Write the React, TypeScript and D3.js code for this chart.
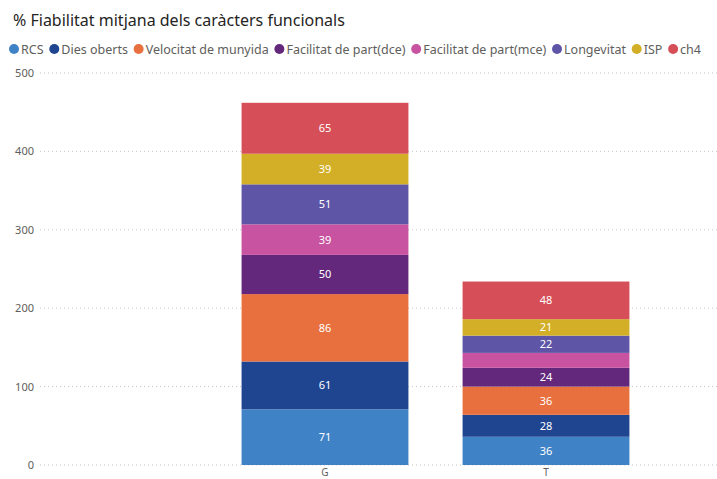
import React, { useRef, useEffect } from 'react';
import * as d3 from 'd3';

const categories = ['G', 'T'];
const seriesNames = ['RCS', 'Dies oberts', 'Velocitat de munyida', 'Facilitat de part(dce)', 'Facilitat de part(mce)', 'Longevitat', 'ISP', 'ch4'];
const seriesColors = ['#3F83C6', '#1F4591', '#E8703E', '#63287C', '#C853A0', '#5E55A6', '#D2AF27', '#D64E57'];
const valuesG = [71, 61, 86, 50, 39, 51, 39, 65];
const valuesT = [36, 28, 36, 24, 19, 22, 21, 48];
const yTicks = [0, 100, 200, 300, 400, 500];

const W = 717;
const H = 479;
const FONT = "'Segoe UI', 'Noto Sans', 'DejaVu Sans', sans-serif";

const App = () => {
  const svgRef = useRef<SVGSVGElement>(null);

  useEffect(() => {
    const svg = d3.select(svgRef.current);
    svg.selectAll('*').remove();

    // title
    svg.append('text')
      .attr('x', 13).attr('y', 26)
      .attr('font-size', 16)
      .attr('font-family', FONT)
      .attr('fill', '#252423')
      .text('% Fiabilitat mitjana dels caràcters funcionals');

    // legend, laid out by measured text width
    const lg = svg.append('g').attr('font-family', FONT).attr('font-size', 12.5).attr('fill', '#605E5C');
    const items = seriesNames.map((name, i) => {
      const g = lg.append('g');
      g.append('circle').attr('r', 5).attr('cx', 5).attr('cy', 0).attr('fill', seriesColors[i]);
      const t = g.append('text').attr('x', 12).attr('y', 4.5).text(name);
      const w = 12 + (t.node() as SVGTextElement).getComputedTextLength();
      return { g, w };
    });
    const startX = 9;
    const endX = 701;
    const totalW = d3.sum(items, d => d.w);
    const gap = (endX - startX - totalW) / (items.length - 1);
    let lx = startX;
    items.forEach(it => {
      it.g.attr('transform', `translate(${lx},49)`);
      lx += it.w + gap;
    });

    const y = d3.scaleLinear().domain([0, 500]).range([465, 73]);
    const x = d3.scaleBand<string>()
      .domain(categories)
      .range([214.5, 656.5])
      .paddingInner(0.245)
      .paddingOuter(0.1225);

    // gridlines + y labels
    const grid = svg.append('g');
    yTicks.forEach(v => {
      grid.append('line')
        .attr('x1', 40).attr('x2', W)
        .attr('y1', y(v)).attr('y2', y(v))
        .attr('stroke', '#C8C6C4')
        .attr('stroke-width', 1)
        .attr('stroke-dasharray', '1,3');
      grid.append('text')
        .attr('x', 34).attr('y', y(v) + 4)
        .attr('text-anchor', 'end')
        .attr('font-family', FONT)
        .attr('font-size', 11)
        .attr('fill', '#605E5C')
        .text(v);
    });

    // stacked bars
    const rows = [valuesG, valuesT];
    const table = categories.map((c, i) => {
      const o: any = { cat: c };
      seriesNames.forEach((s, j) => { o[s] = rows[i][j]; });
      return o;
    });
    const stacked = d3.stack().keys(seriesNames)(table);

    stacked.forEach((layer, j) => {
      const lay = svg.append('g');
      layer.forEach(d => {
        const cat = (d.data as any).cat;
        const x0 = x(cat) as number;
        const y0 = y(d[0]);
        const y1 = y(d[1]);
        lay.append('rect')
          .attr('x', x0).attr('y', y1)
          .attr('width', x.bandwidth())
          .attr('height', y0 - y1)
          .attr('fill', seriesColors[j]);
        if (y0 - y1 >= 16) {
          lay.append('text')
            .attr('x', x0 + x.bandwidth() / 2)
            .attr('y', (y0 + y1) / 2 + 4)
            .attr('text-anchor', 'middle')
            .attr('font-family', FONT)
            .attr('font-size', 11)
            .attr('fill', '#FFFFFF')
            .text(d[1] - d[0]);
        }
      });
    });

    // x labels
    categories.forEach(c => {
      svg.append('text')
        .attr('x', (x(c) as number) + x.bandwidth() / 2)
        .attr('y', 476)
        .attr('text-anchor', 'middle')
        .attr('font-family', FONT)
        .attr('font-size', 10)
        .attr('fill', '#605E5C')
        .text(c);
    });
  }, []);

  return (
    <svg ref={svgRef} width={W} height={H} style={{ position: 'absolute', left: 0, top: 0, background: '#fff' }} />
  );
};

export default App;
